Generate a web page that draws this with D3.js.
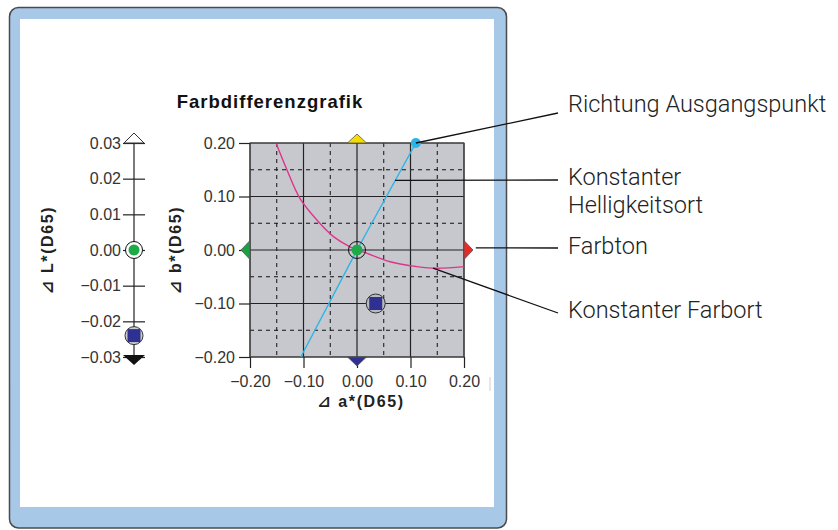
<!DOCTYPE html>
<html>
<head>
<meta charset="utf-8">
<script src="https://cdn.jsdelivr.net/npm/d3@7"></script>
<style>
html,body{margin:0;padding:0;background:#fff;}
svg{display:block;}
</style>
</head>
<body>
<svg id="chart" width="838" height="530"></svg>
<script>
// ---------- data ----------
const abTicks = [-0.20, -0.10, 0.00, 0.10, 0.20];
const abMinor = [-0.15, -0.05, 0.05, 0.15];
const lTicks = [0.03, 0.02, 0.01, 0.00, -0.01, -0.02, -0.03];
const sampleNames = ["Referenz", "Probe"];
const sampleA = [0.000, 0.035];
const sampleB = [0.000, -0.100];
const sampleL = [0.000, -0.024];
const hueLineA = [-0.105, 0.000, 0.110];
const hueLineB = [-0.200, 0.000, 0.200];
const chromaA = [-0.151, -0.131, -0.107, -0.075, -0.044, -0.013, 0.018, 0.062, 0.112, 0.149, 0.200];
const chromaB = [0.199, 0.150, 0.097, 0.056, 0.025, 0.006, -0.006, -0.022, -0.031, -0.034, -0.031];
const title = "Farbdifferenzgrafik";
const xTitle = "⊿ a*(D65)";
const yTitle = "⊿ b*(D65)";
const lTitle = "⊿ L*(D65)";
const annotations = ["Richtung Ausgangspunkt", "Konstanter\nHelligkeitsort", "Farbton", "Konstanter Farbort"];
const annotAnchorA = [0.110, 0.071, 0.222, 0.142];
const annotAnchorB = [0.200, 0.130, 0.004, -0.034];

// ---------- layout ----------
const svg = d3.select("#chart");
const fontTick = "'Liberation Sans', Arial, sans-serif";
const plot = {x0: 250, x1: 464, y0: 143, y1: 357};
const x = d3.scaleLinear().domain([-0.2, 0.2]).range([plot.x0, plot.x1]);
const y = d3.scaleLinear().domain([-0.2, 0.2]).range([plot.y1, plot.y0]);
const yL = d3.scaleLinear().domain([-0.03, 0.03]).range([plot.y1, plot.y0]);
const lAxisX = 134;

// frame
svg.append("rect").attr("x", 9.5).attr("y", 7.5).attr("width", 497).attr("height", 520.5)
  .attr("rx", 9).attr("fill", "#a8c8e8").attr("stroke", "#4a4a4a").attr("stroke-width", 1.5);
svg.append("rect").attr("x", 20).attr("y", 19).attr("width", 474).attr("height", 488).attr("fill", "#fff");

// title
svg.append("text").attr("x", 270).attr("y", 108).attr("text-anchor", "middle")
  .attr("font-family", "'Liberation Sans', Arial, sans-serif").attr("font-weight", "bold")
  .attr("font-size", 18.5).attr("letter-spacing", 1).attr("fill", "#111").text(title);

// plot background
svg.append("rect").attr("x", plot.x0).attr("y", plot.y0).attr("width", plot.x1 - plot.x0)
  .attr("height", plot.y1 - plot.y0).attr("fill", "#c6c8cd");

const g = svg.append("g");
// minor dashed grid
abMinor.forEach(v => {
  g.append("line").attr("x1", x(v)).attr("x2", x(v)).attr("y1", plot.y0).attr("y2", plot.y1)
    .attr("stroke", "#111").attr("stroke-width", 1).attr("stroke-dasharray", "4,4");
  g.append("line").attr("y1", y(v)).attr("y2", y(v)).attr("x1", plot.x0).attr("x2", plot.x1)
    .attr("stroke", "#111").attr("stroke-width", 1).attr("stroke-dasharray", "4,4");
});
// major grid
abTicks.forEach(v => {
  g.append("line").attr("x1", x(v)).attr("x2", x(v)).attr("y1", plot.y0).attr("y2", plot.y1)
    .attr("stroke", "#222").attr("stroke-width", 1.2);
  g.append("line").attr("y1", y(v)).attr("y2", y(v)).attr("x1", plot.x0).attr("x2", plot.x1)
    .attr("stroke", "#222").attr("stroke-width", 1.2);
});
svg.append("rect").attr("x", plot.x0).attr("y", plot.y0).attr("width", plot.x1 - plot.x0)
  .attr("height", plot.y1 - plot.y0).attr("fill", "none").attr("stroke", "#444").attr("stroke-width", 1);

// axes
const fmt = d3.format(".2f");
const xAxis = svg.append("g").attr("transform", `translate(0,${plot.y1})`)
  .call(d3.axisBottom(x).tickValues(abTicks).tickFormat(fmt).tickSize(11).tickPadding(8));
const yAxis = svg.append("g").attr("transform", `translate(${plot.x0},0)`)
  .call(d3.axisLeft(y).tickValues(abTicks).tickFormat(fmt).tickSize(11).tickPadding(4));
[xAxis, yAxis].forEach(ax => {
  ax.select(".domain").remove();
  ax.selectAll(".tick line").attr("stroke", "#222").attr("stroke-width", 1.2);
  ax.selectAll(".tick text").attr("font-family", fontTick).attr("font-size", 16).attr("fill", "#333");
});

// axis titles
const titleFont = "'Liberation Sans', 'DejaVu Sans', sans-serif";
svg.append("text").attr("x", 361).attr("y", 407).attr("text-anchor", "middle")
  .attr("font-family", titleFont).attr("font-weight", "bold").attr("font-size", 16).attr("letter-spacing", 1.6)
  .attr("fill", "#222").text(xTitle);
svg.append("text").attr("transform", "translate(181,250) rotate(-90)").attr("text-anchor", "middle")
  .attr("font-family", titleFont).attr("font-weight", "bold").attr("font-size", 16).attr("letter-spacing", 1.6)
  .attr("fill", "#222").text(yTitle);
svg.append("text").attr("transform", "translate(53,250) rotate(-90)").attr("text-anchor", "middle")
  .attr("font-family", titleFont).attr("font-weight", "bold").attr("font-size", 16).attr("letter-spacing", 1.6)
  .attr("fill", "#222").text(lTitle);

// direction triangles (hue axes)
function tri(cx, cy, dir, fill) {
  const w = 9.5, h = 9;
  let pts;
  if (dir === "up") pts = [[cx - w, cy], [cx + w, cy], [cx, cy - h]];
  if (dir === "down") pts = [[cx - w, cy], [cx + w, cy], [cx, cy + h]];
  if (dir === "left") pts = [[cx, cy - w], [cx, cy + w], [cx - h, cy]];
  if (dir === "right") pts = [[cx, cy - w], [cx, cy + w], [cx + h, cy]];
  svg.append("polygon").attr("points", pts.map(p => p.join(",")).join(" "))
    .attr("fill", fill).attr("stroke", "#555").attr("stroke-width", 0.8);
}
tri(x(0), y(0.2), "up", "#f4dc00");
tri(x(0), y(-0.2), "down", "#2e3192");
tri(x(-0.2), y(0), "left", "#1e9e45");
tri(x(0.2), y(0), "right", "#e52a2a");

// constant chroma curve
const chroma = chromaA.map((a, i) => [a, chromaB[i]]);
svg.append("path").datum(chroma)
  .attr("d", d3.line().x(d => x(d[0])).y(d => y(d[1])).curve(d3.curveCatmullRom))
  .attr("fill", "none").attr("stroke", "#e0348c").attr("stroke-width", 1.4);

// hue direction line
const hue = hueLineA.map((a, i) => [a, hueLineB[i]]);
svg.append("path").datum(hue)
  .attr("d", d3.line().x(d => x(d[0])).y(d => y(d[1])))
  .attr("fill", "none").attr("stroke", "#2cb4e6").attr("stroke-width", 1.4);
svg.append("circle").attr("cx", x(hueLineA[2])).attr("cy", y(hueLineB[2])).attr("r", 5).attr("fill", "#2cb4e6");

// samples in a*b*
svg.append("circle").attr("cx", x(sampleA[1])).attr("cy", y(sampleB[1])).attr("r", 9.5)
  .attr("fill", "#b9bbc3").attr("stroke", "#333").attr("stroke-width", 1);
svg.append("rect").attr("x", x(sampleA[1]) - 6.5).attr("y", y(sampleB[1]) - 6.5).attr("width", 13).attr("height", 13)
  .attr("fill", "#2e3192");
svg.append("circle").attr("cx", x(sampleA[0])).attr("cy", y(sampleB[0])).attr("r", 8.5)
  .attr("fill", "none").attr("stroke", "#111").attr("stroke-width", 1);
svg.append("circle").attr("cx", x(sampleA[0])).attr("cy", y(sampleB[0])).attr("r", 5.5).attr("fill", "#1faa4a");

// L* axis
svg.append("line").attr("x1", lAxisX).attr("x2", lAxisX).attr("y1", yL(0.03)).attr("y2", yL(-0.03))
  .attr("stroke", "#222").attr("stroke-width", 1.2);
const lAx = svg.append("g").attr("transform", `translate(${lAxisX + 11},0)`)
  .call(d3.axisLeft(yL).tickValues(lTicks).tickFormat(fmt).tickSize(22).tickPadding(2));
lAx.select(".domain").remove();
lAx.selectAll(".tick line").attr("stroke", "#222").attr("stroke-width", 1.2);
lAx.selectAll(".tick text").attr("font-family", fontTick).attr("font-size", 16).attr("fill", "#333");
// L end triangles
svg.append("polygon").attr("points", [[lAxisX - 10, yL(0.03)], [lAxisX + 10, yL(0.03)], [lAxisX, yL(0.03) - 10]].map(p => p.join(",")).join(" "))
  .attr("fill", "#fff").attr("stroke", "#333").attr("stroke-width", 1);
svg.append("polygon").attr("points", [[lAxisX - 11, yL(-0.03) - 2], [lAxisX + 11, yL(-0.03) - 2], [lAxisX, yL(-0.03) + 8]].map(p => p.join(",")).join(" "))
  .attr("fill", "#111");
// samples on L*
svg.append("circle").attr("cx", lAxisX).attr("cy", yL(sampleL[1])).attr("r", 9)
  .attr("fill", "#c9cbd2").attr("stroke", "#333").attr("stroke-width", 1);
svg.append("rect").attr("x", lAxisX - 6.5).attr("y", yL(sampleL[1]) - 6.5).attr("width", 13).attr("height", 13).attr("fill", "#2e3192");
svg.append("circle").attr("cx", lAxisX).attr("cy", yL(sampleL[0])).attr("r", 8.5)
  .attr("fill", "#fff").attr("stroke", "#111").attr("stroke-width", 1);
svg.append("circle").attr("cx", lAxisX).attr("cy", yL(sampleL[0])).attr("r", 5.5).attr("fill", "#1faa4a");

// small stray mark near frame
svg.append("line").attr("x1", 490).attr("x2", 490).attr("y1", 377).attr("y2", 391).attr("stroke", "#ccc");

// annotations
const annotY = [112, 185, 254, 318];
const leaderY = [113, 180, 248, 313];
annotations.forEach((t, i) => {
  svg.append("line").attr("x1", x(annotAnchorA[i])).attr("y1", y(annotAnchorB[i]))
    .attr("x2", 558).attr("y2", leaderY[i]).attr("stroke", "#111").attr("stroke-width", 1.3);
  const tx = svg.append("text").attr("x", 568).attr("y", annotY[i])
    .attr("font-family", "Roboto, 'Liberation Sans', sans-serif").attr("font-weight", 300)
    .attr("font-size", 23.5).attr("fill", "#222");
  t.split("\n").forEach((line, j) => {
    tx.append("tspan").attr("x", 568).attr("dy", j === 0 ? 0 : 28).text(line);
  });
});
</script>
</body>
</html>
